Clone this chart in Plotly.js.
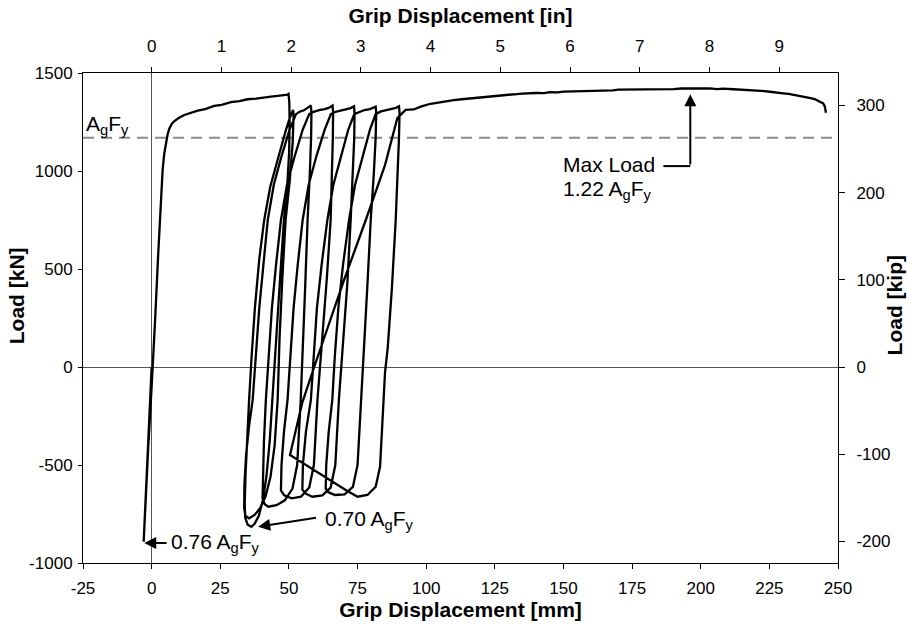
<!DOCTYPE html>
<html>
<head>
<meta charset="utf-8">
<script src="https://cdn.plot.ly/plotly-3.0.1.min.js"></script>
<style>html,body{margin:0;padding:0;background:#fff;}#chart{width:907px;height:628px;}</style>
</head>
<body>
<div id="chart"></div>
<script>
// ---- data ----
const KN_PER_KIP = 4.448222;
const MM_PER_IN = 25.4;
const AgFy = 1170; // kN

const initDisp = [0, -1.4, -2.9, -2.4, -1.2, 0.0, 0.4, 1.3, 2.3, 3.4, 4.0, 4.6, 5.2, 5.8, 6.4, 7.3, 8.3, 10.0, 11.9, 14.0, 16.8, 19.5, 22.8, 25.5, 28.9, 32.0, 34.9, 38.0, 41.0, 43.5, 45.9, 48.0, 49.5, 49.85];
const initLoad = [0, -430, -891, -740, -400, -100, 0, 250, 550, 852, 1005, 1090, 1141, 1185, 1215, 1240, 1255, 1272, 1286, 1296, 1308, 1316, 1332, 1337, 1351, 1356, 1366, 1369, 1376, 1380, 1383, 1386, 1390, 1393];

const cycleDisp = [
  50.15, 50.25, 50.1, 49.5, 48.2, 47.0, 45.8, 44.8, 44.0, 43.0, 41.8, 40.5, 39.0, 37.5, 36.3, 35.0, 34.1,
  33.9, 34.2, 34.7, 35.5, 36.4, 37.6, 39.2, 41.0, 43.2, 45.9, 48.9, 50.3, 51.0, 51.5,
  51.7, 51.4, 50.3, 48.8, 47.6, 46.6, 45.9, 44.8, 43.3, 41.5, 39.5, 37.5, 35.5, 34.2, 33.7,
  33.8, 34.4, 35.5, 36.8, 37.8, 39.2, 40.7, 42.3, 44.5, 47.2, 50.2, 52.6, 54.0, 55.5, 56.8, 58.0,
  58.2, 58.1, 57.6, 56.8, 55.9, 55.1, 54.3, 53.0, 51.3, 48.5, 45.5, 42.5, 41.2, 40.4,
  40.5, 40.9, 41.6, 42.5, 43.8, 45.3, 47.1, 49.3, 52.0, 55.0, 57.4, 59.0, 61.0, 63.0, 64.5, 65.9,
  66.1, 66.0, 65.7, 65.2, 63.8, 62.2, 61.3, 60.4, 59.1, 57.4, 54.4, 51.0, 48.3, 47.1,
  47.3, 48.2, 49.5, 50.4, 51.7, 53.2, 55.0, 57.2, 60.0, 63.0, 65.3, 67.0, 69.0, 71.0, 72.5, 73.7,
  73.9, 73.8, 73.3, 72.5, 71.3, 69.8, 69.0, 68.2, 66.9, 65.2, 62.2, 58.5, 56.0, 54.9,
  55.1, 56.2, 58.0, 58.9, 60.2, 61.9, 64.0, 66.2, 68.9, 71.6, 73.8, 75.5, 77.5, 79.5, 80.6, 81.6,
  81.8, 81.6, 80.9, 79.8, 78.6, 77.4, 76.2, 75.0, 73.3, 70.3, 66.8, 64.5, 63.4,
  63.6, 64.5, 65.8, 66.7, 68.0, 69.7, 71.9, 74.1, 76.8, 79.5, 81.6, 83.5, 85.5, 87.5, 89.0, 90.1,
  90.3, 90.1, 89.6, 88.9, 87.5, 86.0, 85.0, 84.5, 83.2, 81.6, 78.6, 75.0, 72.5, 70.7,
  50.4, 54.9, 59.2, 70.1, 78.0, 85.0, 89.5, 91.3
];
const cycleLoad = [
  1350, 1250, 1100, 950, 750, 500, 250, 50, -168, -380, -560, -680, -760, -800, -815, -805, -770,
  -700, -550, -380, -168, 50, 300, 550, 750, 920, 1060, 1209, 1270, 1295, 1312,
  1290, 1150, 950, 750, 450, 150, -168, -400, -560, -660, -720, -755, -772, -760, -720,
  -600, -450, -300, -168, 50, 300, 520, 750, 930, 1070, 1210, 1290, 1303, 1310, 1322, 1334,
  1300, 1180, 980, 750, 400, 100, -168, -500, -620, -680, -705, -713, -700, -670,
  -550, -380, -168, 50, 300, 520, 750, 930, 1070, 1210, 1290, 1302, 1311, 1316, 1322, 1334,
  1300, 1170, 980, 750, 450, 150, 0, -168, -500, -615, -662, -670, -655, -630,
  -500, -330, -168, 50, 300, 520, 750, 930, 1075, 1210, 1290, 1302, 1309, 1316, 1321, 1330,
  1300, 1170, 980, 750, 430, 130, 0, -168, -500, -615, -655, -662, -645, -625,
  -500, -330, -168, 50, 300, 520, 750, 930, 1075, 1210, 1290, 1301, 1311, 1316, 1322, 1328,
  1300, 1170, 980, 750, 420, 100, -168, -500, -612, -650, -653, -640, -620,
  -500, -330, -168, 50, 300, 520, 750, 930, 1075, 1210, 1290, 1304, 1311, 1317, 1322, 1330,
  1300, 1170, 980, 750, 400, 100, -30, -168, -509, -611, -653, -662, -644, -628,
  -449, -180, 0, 444, 750, 1030, 1270, 1294
];

const finalDisp = [92.5, 95.5, 98.0, 101.6, 105, 108, 110, 113, 115, 118, 120, 123, 125, 128, 130, 133, 135, 140, 143, 145, 148, 150, 155, 158, 160, 165, 168, 170, 175, 178, 181.6, 184, 186, 190, 193, 196, 198, 200, 203.4, 206, 208, 212, 215, 217.5, 220, 222, 226, 228, 230, 232, 234, 236, 237.3, 239, 240, 241.5, 242.2, 243.5, 244.6, 245.2, 245.6];
const finalLoad = [1312, 1314, 1328, 1343, 1352, 1360, 1362, 1366, 1369, 1374, 1377, 1379, 1384, 1385, 1389, 1392, 1395, 1398, 1397, 1402, 1401, 1405, 1407, 1406, 1410, 1412, 1411, 1415, 1416, 1414, 1418, 1417, 1419, 1418, 1421, 1422, 1419, 1420, 1422, 1418, 1420, 1417, 1415, 1414, 1411, 1409, 1403, 1401, 1396, 1393, 1388, 1385, 1380, 1378, 1372, 1367, 1362, 1355, 1345, 1330, 1297];

const xTickValsMm = [-25, 0, 25, 50, 75, 100, 125, 150, 175, 200, 225, 250];
const xTickValsIn = [0, 1, 2, 3, 4, 5, 6, 7, 8, 9];
const yTickValsKN = [-1000, -500, 0, 500, 1000, 1500];
const yTickValsKip = [-200, -100, 0, 100, 200, 300];

// ---- build ----
const disp = initDisp.concat(cycleDisp, finalDisp);
const load = initLoad.concat(cycleLoad, finalLoad);
const FONT = 'Liberation Sans, Arial, Helvetica, sans-serif';
const xMin = xTickValsMm[0], xMax = xTickValsMm[xTickValsMm.length - 1];
const yMin = yTickValsKN[0], yMax = yTickValsKN[yTickValsKN.length - 1];

const traces = [
  {x: [xMin, xMax], y: [AgFy, AgFy], mode: 'lines', xaxis: 'x', yaxis: 'y',
   line: {color: '#8a8a8a', width: 2, dash: '11px,7px'}, hoverinfo: 'skip'},
  {x: disp, y: load, mode: 'lines', xaxis: 'x', yaxis: 'y',
   line: {color: '#000', width: 2.3}, hoverinfo: 'skip'},
  {x: [0], y: [0], mode: 'none', xaxis: 'x2', yaxis: 'y2', hoverinfo: 'skip'}
];

const tickfont = {family: FONT, size: 17, color: '#000'};
const titlefont = {family: FONT, size: 21, color: '#000'};
const annFont = {family: FONT, size: 21, color: '#000'};
const txt = v => String(v);

const layout = {
  width: 907, height: 628,
  margin: {l: 83, r: 69, t: 73, b: 65},
  paper_bgcolor: '#fff', plot_bgcolor: '#fff',
  showlegend: false,
  xaxis: {
    range: [xMin, xMax], tickmode: 'array', tickvals: xTickValsMm, ticktext: xTickValsMm.map(txt),
    ticks: 'outside', ticklen: 5, tickcolor: '#000', tickwidth: 1,
    showline: true, linecolor: '#000', linewidth: 1,
    zeroline: true, zerolinecolor: '#555', zerolinewidth: 1,
    showgrid: false, tickfont: tickfont, ticklabelstandoff: 5,
    title: {text: '<b>Grip Displacement [mm]</b>', font: titlefont, standoff: 3}
  },
  xaxis2: {
    overlaying: 'x', side: 'top', anchor: 'y2',
    range: [xMin / MM_PER_IN, xMax / MM_PER_IN], tickmode: 'array', tickvals: xTickValsIn, ticktext: xTickValsIn.map(txt),
    ticks: 'outside', ticklen: 5, tickcolor: '#000',
    showline: true, linecolor: '#000', linewidth: 1,
    zeroline: false, showgrid: false, tickfont: tickfont, ticklabelstandoff: 8,
    title: {text: '<b>Grip Displacement [in]</b>', font: titlefont, standoff: 7}
  },
  yaxis: {
    range: [yMin, yMax], tickmode: 'array', tickvals: yTickValsKN, ticktext: yTickValsKN.map(txt),
    ticks: 'outside', ticklen: 4, tickcolor: '#000',
    showline: true, linecolor: '#000', linewidth: 1,
    zeroline: true, zerolinecolor: '#555', zerolinewidth: 1,
    showgrid: false, tickfont: tickfont, ticklabelstandoff: 2
  },
  yaxis2: {
    overlaying: 'y', side: 'right', anchor: 'x2',
    range: [yMin / KN_PER_KIP, yMax / KN_PER_KIP], tickmode: 'array', tickvals: yTickValsKip, ticktext: yTickValsKip.map(txt),
    ticks: 'outside', ticklen: 6, tickcolor: '#000',
    showline: true, linecolor: '#000', linewidth: 1,
    zeroline: false, showgrid: false, tickfont: tickfont, ticklabelstandoff: 8
  },
  shapes: [
    {type: 'line', xref: 'x', yref: 'y', x0: 186.4, x1: 196.2, y0: 1025, y1: 1025,
     line: {color: '#000', width: 2}}
  ],
  annotations: [
    {xref: 'paper', yref: 'paper', x: -0.087, y: 0.545, xanchor: 'center', yanchor: 'middle', textangle: -90,
     text: '<b>Load [kN]</b>', showarrow: false, font: titlefont},
    {xref: 'paper', yref: 'paper', x: 1.075, y: 0.525, xanchor: 'center', yanchor: 'middle', textangle: -90,
     text: '<b>Load [kip]</b>', showarrow: false, font: titlefont},
    {xref: 'x', yref: 'y', x: -25, y: 1235, xanchor: 'left', yanchor: 'middle', xshift: 1,
     text: 'A<sub>g</sub>F<sub>y</sub>', showarrow: false, font: annFont},
    {xref: 'x', yref: 'y', x: 184.0, y: 1035, xanchor: 'right', yanchor: 'middle',
     text: 'Max Load', showarrow: false, font: annFont},
    {xref: 'x', yref: 'y', x: 182.8, y: 905, xanchor: 'right', yanchor: 'middle',
     text: '1.22 A<sub>g</sub>F<sub>y</sub>', showarrow: false, font: annFont},
    {xref: 'x', yref: 'y', x: 196.2, y: 1392, axref: 'x', ayref: 'y', ax: 196.2, ay: 1025,
     text: '', showarrow: true, arrowhead: 2, arrowsize: 1.2, arrowwidth: 2, arrowcolor: '#000', standoff: 0},
    {xref: 'x', yref: 'y', x: 62.3, y: -780, xanchor: 'left', yanchor: 'middle',
     text: '0.70 A<sub>g</sub>F<sub>y</sub>', showarrow: false, font: annFont},
    {xref: 'x', yref: 'y', x: 38.8, y: -815, axref: 'x', ayref: 'y', ax: 60.4, ay: -768,
     text: '', showarrow: true, arrowhead: 2, arrowsize: 1.2, arrowwidth: 2, arrowcolor: '#000', standoff: 0},
    {xref: 'x', yref: 'y', x: 6.3, y: -898, xanchor: 'left', yanchor: 'middle',
     text: '0.76 A<sub>g</sub>F<sub>y</sub>', showarrow: false, font: annFont},
    {xref: 'x', yref: 'y', x: -2.7, y: -898, axref: 'x', ayref: 'y', ax: 6.0, ay: -898,
     text: '', showarrow: true, arrowhead: 2, arrowsize: 1.2, arrowwidth: 2, arrowcolor: '#000', standoff: 0}
  ]
};

Plotly.newPlot('chart', traces, layout, {staticPlot: true, displayModeBar: false});
</script>
</body>
</html>
